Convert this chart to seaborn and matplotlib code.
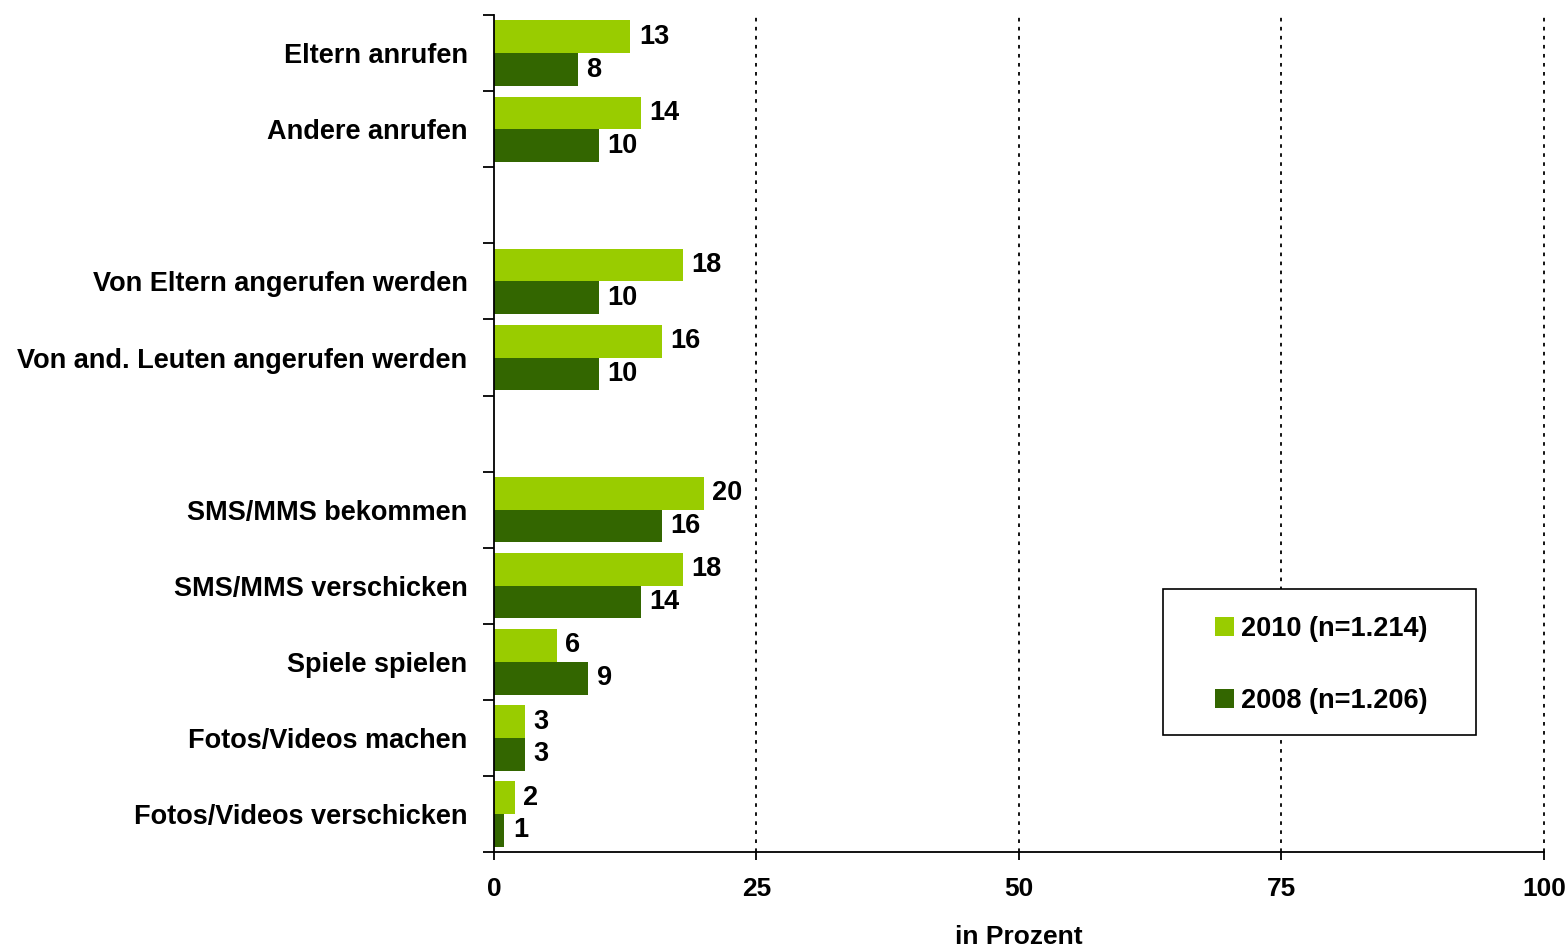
import matplotlib
matplotlib.use("Agg")
import matplotlib.pyplot as plt
import numpy as np
import pandas as pd
import seaborn as sns
from matplotlib.patches import Patch, Rectangle

# --- data ---
CATEGORIES = [
    "Eltern anrufen",
    "Andere anrufen",
    " ",
    "Von Eltern angerufen werden",
    "Von and. Leuten angerufen werden",
    "  ",
    "SMS/MMS bekommen",
    "SMS/MMS verschicken",
    "Spiele spielen",
    "Fotos/Videos machen",
    "Fotos/Videos verschicken",
]
VALUES_2010 = [13, 14, np.nan, 18, 16, np.nan, 20, 18, 6, 3, 2]
VALUES_2008 = [8, 10, np.nan, 10, 10, np.nan, 16, 14, 9, 3, 1]
SERIES = ["2010 (n=1.214)", "2008 (n=1.206)"]
COLORS = ["#99CC00", "#336600"]
X_TICKS = [0, 25, 50, 75, 100]

sns.set_style("white")
plt.rcParams["font.family"] = ["Liberation Sans", "DejaVu Sans"]
plt.rcParams["font.weight"] = "bold"
for key in ["text.color", "axes.labelcolor", "xtick.color", "ytick.color"]:
    plt.rcParams[key] = "black"
FS = 19.5

df = pd.DataFrame({
    "cat": CATEGORIES * 2,
    "value": VALUES_2010 + VALUES_2008,
    "series": [SERIES[0]] * len(CATEGORIES) + [SERIES[1]] * len(CATEGORIES),
})

W, H = 1568, 947
fig = plt.figure(figsize=(W / 100, H / 100), dpi=100)
ax = fig.add_axes([0.315, 0.1003, 0.6697, 0.8837])

sns.barplot(
    data=df, y="cat", x="value", hue="series", order=CATEGORIES,
    hue_order=SERIES, palette=COLORS, orient="h", width=0.86,
    saturation=1, legend=False, ax=ax, errorbar=None, linewidth=0,
    edgecolor="none",
)

# value labels
for container in ax.containers:
    labels = ["" if np.isnan(v) else f"{v:.0f}" for v in container.datavalues]
    ax.bar_label(container, labels=labels, padding=6, fontsize=FS,
                 fontweight="bold", color="black")

ax.set_xlim(0, 100)
ax.set_ylim(len(CATEGORIES) - 0.5, -0.5)
ax.set_xticks(X_TICKS)
ax.set_xticklabels([str(t) for t in X_TICKS], fontsize=FS - 0.5, fontweight="bold")
ax.tick_params(axis="x", bottom=True, length=6, width=1.3, direction="out",
               pad=12, color="black")

# category labels without tick marks, boundary ticks as minor ticks
ax.set_yticks(range(len(CATEGORIES)))
ax.set_yticklabels([c.strip() for c in CATEGORIES], fontsize=FS, fontweight="bold")
ax.tick_params(axis="y", which="major", left=False, length=0, pad=19)
ax.set_yticks(np.arange(-0.5, len(CATEGORIES)), minor=True)
ax.tick_params(axis="y", which="minor", left=True, length=8, width=1.3,
               direction="out", color="black")

ax.set_xlabel("in Prozent", fontsize=FS - 0.5, fontweight="bold", labelpad=17)
ax.set_ylabel("")

for x in X_TICKS[1:]:
    ax.axvline(x, color="black", linestyle=(0, (2, 3)), linewidth=1.3,
               zorder=0, clip_on=False)

for side in ["top", "right"]:
    ax.spines[side].set_visible(False)
for side in ["left", "bottom"]:
    ax.spines[side].set_color("black")
    ax.spines[side].set_linewidth(1.3)

# legend box (opaque, covers the grid lines)
box = Rectangle((1163 / W, 1 - 735 / H), 313 / W, 146 / H,
                transform=fig.transFigure, facecolor="white",
                edgecolor="black", linewidth=1.2, zorder=1.5)
ax.add_patch(box)

handles = [Patch(facecolor=c, edgecolor="none") for c in COLORS]
leg = ax.legend(
    handles, SERIES, loc="center", bbox_to_anchor=(1321 / W, 1 - 665 / H),
    bbox_transform=fig.transFigure, frameon=False,
    prop={"weight": "bold", "size": FS},
    handlelength=0.72, handleheight=0.72, handletextpad=0.25,
    labelspacing=1.7, borderpad=0, borderaxespad=0,
)
leg.set_zorder(3)

fig.savefig("out.png", dpi=100)
